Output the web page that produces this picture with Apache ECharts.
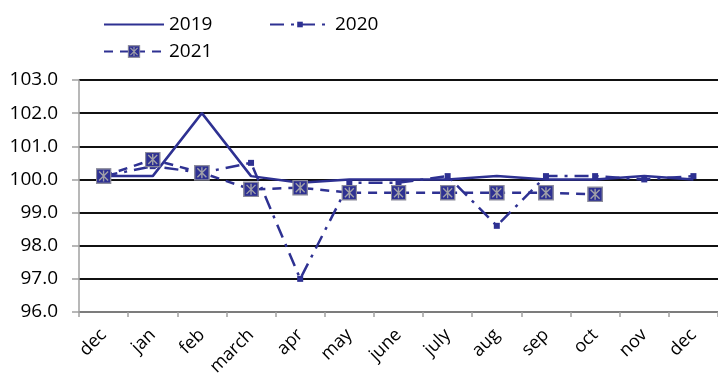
<!DOCTYPE html>
<html>
<head>
<meta charset="utf-8">
<script src="https://cdn.jsdelivr.net/npm/echarts@6/dist/echarts.min.js"></script>
<style>html,body{margin:0;padding:0;background:#fff}#c{width:718px;height:381px}</style>
</head>
<body>
<div id="c"></div>
<script>
var categories = ['dec','jan','feb','march','apr','may','june','july','aug','sep','oct','nov','dec'];
var s2019 = [100.1,100.1,102.0,100.1,99.9,100.0,100.0,100.0,100.1,100.0,100.0,100.1,100.0];
var s2020 = [100.1,100.4,100.2,100.5,97.0,99.9,99.9,100.1,98.6,100.1,100.1,100.0,100.1];
var s2021 = [100.1,100.6,100.2,99.7,99.75,99.6,99.6,99.6,99.6,99.6,99.55,null,null];
var yTicks = [96,97,98,99,100,101,102,103];

var navy = '#2E3192';
var svg = "<svg xmlns='http://www.w3.org/2000/svg' width='16' height='16'>" +
  "<rect x='0.75' y='0.75' width='14.5' height='14.5' fill='#2E3192' stroke='#8c8c9c' stroke-width='1.5'/>" +
  "<path d='M3.5 3.5L12.5 12.5M12.5 3.5L3.5 12.5M8 2.5V13.5' stroke='#a0a0a8' stroke-width='1.4'/></svg>";
var markSym = 'image://data:image/svg+xml;charset=utf-8,' + encodeURIComponent(svg);
var font = 'Open Sans';
var legText = {fontSize: 19, color: '#000', fontFamily: font};

var chart = echarts.init(document.getElementById('c'), null, {renderer: 'canvas'});
chart.setOption({
  animation: false,
  textStyle: {fontFamily: font},
  legend: [
    {data: [{name: '2019', itemStyle: {opacity: 0}}], left: 98, top: 10, itemWidth: 60, itemHeight: 14,
     textStyle: legText},
    {data: ['2020'], left: 264, top: 10, itemWidth: 60, itemHeight: 7,
     textStyle: legText},
    {data: ['2021'], left: 98, top: 37, itemWidth: 60, itemHeight: 16,
     textStyle: legText}
  ],
  grid: {left: 79, right: -2, top: 80, bottom: 69},
  xAxis: {
    type: 'category', data: categories, boundaryGap: true,
    axisLine: {lineStyle: {color: '#a0a0a0', width: 1.5}},
    axisTick: {show: true, length: 5, lineStyle: {color: '#a0a0a0', width: 1.5}},
    axisLabel: {rotate: 45, fontSize: 18, color: '#000', margin: 20, interval: 0, fontFamily: font}
  },
  yAxis: {
    type: 'value', min: yTicks[0], max: yTicks[yTicks.length - 1], interval: 1,
    axisLine: {show: true, lineStyle: {color: '#a0a0a0', width: 1.5}},
    axisTick: {show: true, length: 7, inside: false, lineStyle: {color: '#a0a0a0', width: 1.5}},
    axisLabel: {fontSize: 19, color: '#000', margin: 21, fontFamily: font,
      formatter: function (v) { return v.toFixed(1); }},
    splitLine: {show: true, lineStyle: {color: '#111', width: 1.8}}
  },
  series: [
    {name: '2019', type: 'line', data: s2019, symbol: 'none', showSymbol: false,
     lineStyle: {color: navy, width: 2.5, type: 'solid'}, itemStyle: {color: navy}, z: 3},
    {name: '2020', type: 'line', data: s2020, symbol: 'rect', symbolSize: 6,
     lineStyle: {color: navy, width: 2.5, type: [14, 7, 3, 7]}, itemStyle: {color: navy}, z: 4},
    {name: '2021', type: 'line', data: s2021, symbol: markSym, symbolSize: 16,
     lineStyle: {color: navy, width: 2.5, type: [9, 7]}, itemStyle: {color: navy}, z: 5}
  ]
});
</script>
</body>
</html>
